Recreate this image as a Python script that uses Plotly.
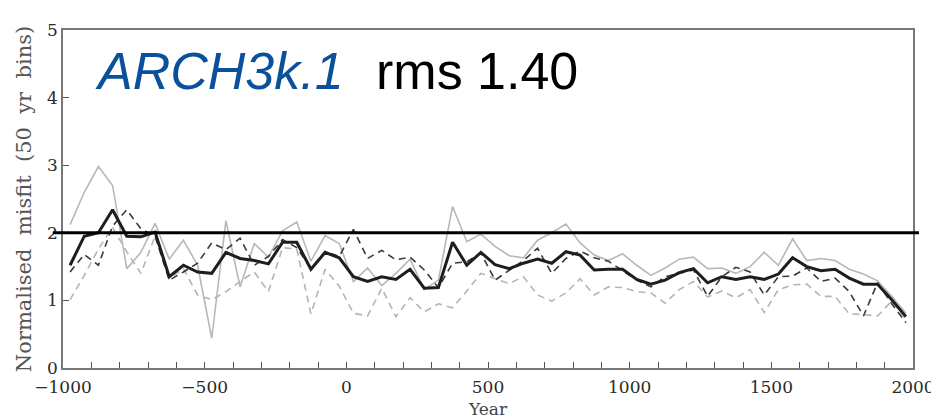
import plotly.graph_objects as go

# 50-year bin centres
years = list(range(-975, 2000, 50))

model_main = [1.52, 1.95, 2.00, 2.34, 1.95, 1.94, 2.01, 1.35, 1.52, 1.42,
              1.40, 1.71, 1.62, 1.59, 1.54, 1.86, 1.86, 1.46, 1.71, 1.63,
              1.35, 1.28, 1.35, 1.31, 1.46, 1.18, 1.19, 1.86, 1.52, 1.71,
              1.53, 1.47, 1.55, 1.61, 1.55, 1.72, 1.67, 1.45, 1.46, 1.46,
              1.31, 1.24, 1.30, 1.41, 1.47, 1.26, 1.35, 1.31, 1.35, 1.31,
              1.39, 1.63, 1.50, 1.44, 1.46, 1.33, 1.24, 1.24, 1.01, 0.76]

model_light_solid = [2.12, 2.60, 2.98, 2.70, 1.47, 1.71, 2.14, 1.61, 1.89, 1.52,
                     0.44, 2.18, 1.20, 1.84, 1.64, 2.03, 2.16, 1.58, 1.96, 1.84,
                     1.28, 1.48, 1.22, 1.40, 1.61, 1.16, 1.30, 2.39, 1.87, 1.98,
                     1.80, 1.66, 1.63, 1.89, 2.00, 2.13, 1.85, 1.67, 1.59, 1.69,
                     1.52, 1.37, 1.48, 1.61, 1.64, 1.47, 1.48, 1.40, 1.50, 1.71,
                     1.52, 1.91, 1.59, 1.62, 1.59, 1.46, 1.39, 1.29, 1.06, 0.81]

model_dark_dashed = [1.42, 1.68, 1.52, 2.10, 2.34, 2.06, 1.95, 1.30, 1.42, 1.55,
                     1.85, 1.75, 1.92, 1.52, 1.65, 1.90, 1.78, 1.47, 1.72, 1.65,
                     2.05, 1.62, 1.74, 1.60, 1.64, 1.45, 1.19, 1.55, 1.57, 1.70,
                     1.30, 1.45, 1.59, 1.77, 1.40, 1.62, 1.73, 1.63, 1.58, 1.44,
                     1.30, 1.20, 1.35, 1.40, 1.45, 1.06, 1.35, 1.49, 1.42, 1.08,
                     1.35, 1.36, 1.48, 1.28, 1.33, 1.13, 0.77, 1.26, 0.95, 0.67]

model_light_dashed = [1.01, 1.37, 1.76, 2.08, 1.72, 1.40, 1.95, 1.32, 1.47, 1.08,
                      1.01, 1.13, 1.28, 1.42, 1.13, 1.78, 1.76, 0.80, 1.46, 1.21,
                      0.81, 0.77, 1.18, 0.76, 1.04, 0.83, 0.95, 0.89, 1.14, 1.40,
                      1.32, 1.25, 1.35, 1.08, 0.99, 1.11, 1.32, 1.08, 1.20, 1.19,
                      1.13, 1.11, 0.96, 1.16, 1.28, 1.05, 1.14, 1.04, 1.16, 0.82,
                      1.16, 1.23, 1.24, 1.06, 1.06, 0.80, 0.79, 0.77, 0.99, 0.72]

reference_level = 2.0
model_name = "ARCH3k.1"
rms_text = "rms 1.40"
x_title = "Year"
y_title_words = ["Normalised", "misfit", "(50", "yr", "bins)"]

gap = "\u00a0\u00a0"
y_title = gap.join(y_title_words)

fig = go.Figure()
fig.add_trace(go.Scatter(x=years, y=model_light_dashed, mode="lines",
                         line=dict(color="#b4b4b4", width=1.6, dash="7px,5px")))
fig.add_trace(go.Scatter(x=years, y=model_light_solid, mode="lines",
                         line=dict(color="#b8b8b8", width=1.6)))
fig.add_trace(go.Scatter(x=years, y=model_dark_dashed, mode="lines",
                         line=dict(color="#3a3a3a", width=1.6, dash="7px,5px")))
fig.add_trace(go.Scatter(x=years, y=model_main, mode="lines",
                         line=dict(color="#1e1e1e", width=3)))

fig.add_shape(type="line", xref="paper", yref="y", x0=-0.012, x1=1.007,
              y0=reference_level, y1=reference_level,
              line=dict(color="black", width=3))

fig.add_annotation(x=-893, y=4.39, xref="x", yref="y", text=model_name,
                   showarrow=False, xanchor="left", yanchor="middle",
                   font=dict(family="Liberation Sans", size=52, color="#0a509a",
                             style="italic"))
fig.add_annotation(x=97, y=4.39, xref="x", yref="y", text=rms_text,
                   showarrow=False, xanchor="left", yanchor="middle",
                   font=dict(family="Liberation Sans", size=52, color="black"))

fig.update_xaxes(range=[-1000, 2000], tickmode="linear", tick0=-1000, dtick=500,
                 ticks="inside", ticklen=6, tickcolor="#555555", tickwidth=1.2,
                 minor=dict(tickmode="linear", tick0=-1000, dtick=100, ticks="inside",
                            ticklen=6, tickcolor="#555555", tickwidth=1.2, showgrid=False),
                 showline=True, linecolor="#777777", linewidth=1.5, mirror=True,
                 showgrid=False, zeroline=False, ticklabelstandoff=3,
                 tickfont=dict(family="DejaVu Serif", size=17, color="#2a2a2a"),
                 title=dict(text=x_title, font=dict(family="DejaVu Serif", size=17,
                                                    color="#444444"), standoff=7))
fig.update_yaxes(range=[0, 5], tickmode="linear", tick0=0, dtick=1,
                 ticks="inside", ticklen=6, tickcolor="#555555", tickwidth=1.2,
                 showline=True, linecolor="#777777", linewidth=1.5, mirror=True,
                 showgrid=False, zeroline=False,
                 tickfont=dict(family="DejaVu Serif", size=17, color="#2a2a2a"),
                 title=dict(text=y_title, font=dict(family="DejaVu Serif", size=21,
                                                    color="#555555"), standoff=10))

fig.update_layout(width=939, height=420, showlegend=False,
                  margin=dict(l=55, r=23, t=16, b=58),
                  plot_bgcolor="white", paper_bgcolor="white")

fig.write_html("out.html")
